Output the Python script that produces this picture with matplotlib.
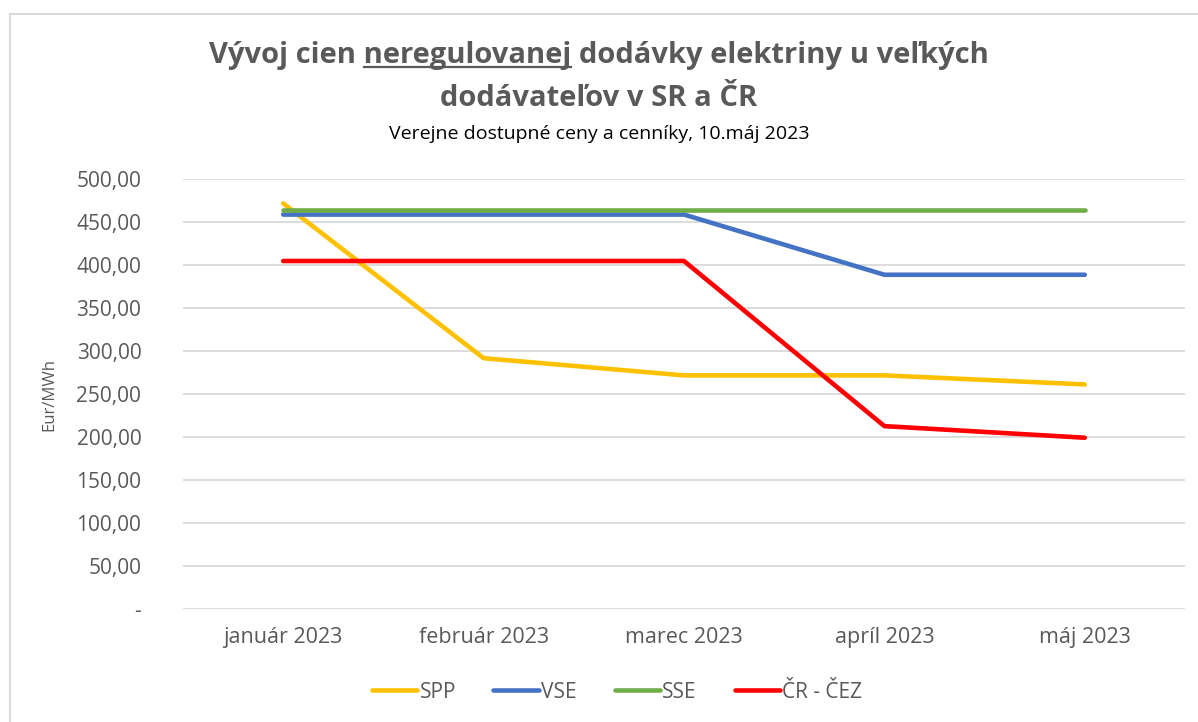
import matplotlib.pyplot as plt
from matplotlib.lines import Line2D
from matplotlib.patches import Rectangle

months = ['január 2023', 'február 2023', 'marec 2023', 'apríl 2023', 'máj 2023']
spp = [472, 292, 272, 272, 261.5]
vse = [459, 459, 459, 389, 389]
sse = [464, 464, 464, 464, 464]
cez = [405, 405, 405, 213, 199.5]

series = [('SPP', spp, '#FFC000'), ('VSE', vse, '#4472C4'),
          ('SSE', sse, '#70AD47'), ('ČR - ČEZ', cez, '#FF0000')]
yticks = [0, 50, 100, 150, 200, 250, 300, 350, 400, 450, 500]

TXT = '#595959'
plt.rcParams['font.family'] = ['Open Sans', 'DejaVu Sans']

fig = plt.figure(figsize=(11.98, 7.22), dpi=100)
# chart area border (Excel look)
fig.patches.append(Rectangle((10 / 1198, -0.01), 1.02, 1 - 14 / 722 + 0.01,
                             transform=fig.transFigure, fill=False,
                             edgecolor='#D9D9D9', linewidth=1.5))

ax = fig.add_axes([183 / 1198, (722 - 609.3) / 722, 1002 / 1198, 430 / 722])
x = list(range(len(months)))
for name, vals, col in series:
    ax.plot(x, vals, color=col, linewidth=3.3, solid_capstyle='round',
            solid_joinstyle='round', label=name)

ax.set_xlim(-0.5, len(months) - 0.5)
ax.set_ylim(0, 500)
ax.set_yticks(yticks)
ax.set_yticklabels(['-' if v == 0 else f'{v:.2f}'.replace('.', ',') for v in yticks])
ax.set_xticks(x)
ax.set_xticklabels(months)
ax.tick_params(axis='both', length=0, colors=TXT)
ax.tick_params(axis='y', pad=30, labelsize=15)
ax.tick_params(axis='x', pad=13, labelsize=15.5)
ax.grid(axis='y', color='#D9D9D9', linewidth=1.3)
ax.set_axisbelow(True)
for s in ax.spines.values():
    s.set_visible(False)
ax.set_ylabel('Eur/MWh', color=TXT, fontsize=12)
ax.yaxis.set_label_coords(-126 / 1002, 0.5)

# title, with underlined word
TSIZE = 21
line1 = 'Vývoj cien neregulovanej dodávky elektriny u veľkých'
t1 = fig.text(0.5, 1 - 55 / 722, line1, ha='center', va='center',
              fontsize=TSIZE, fontweight='bold', color=TXT)
fig.text(0.5, 1 - 98 / 722, 'dodávateľov v SR a ČR', ha='center', va='center',
         fontsize=TSIZE, fontweight='bold', color=TXT)
fig.text(0.5, 1 - 134 / 722, 'Verejne dostupné ceny a cenníky, 10.máj 2023',
         ha='center', va='center', fontsize=14, color='black')

fig.canvas.draw()
r = fig.canvas.get_renderer()


def width(s):
    tmp = fig.text(0, 0, s, fontsize=TSIZE, fontweight='bold')
    w = tmp.get_window_extent(r).width
    tmp.remove()
    return w


bb = t1.get_window_extent(r)
end = bb.x0 + width('Vývoj cien neregulovanej')
start = end - width('neregulovanej')
uy = bb.y0 + 3
fig.lines.append(Line2D([start / 1198, end / 1198], [uy / 722, uy / 722],
                        transform=fig.transFigure, color=TXT, linewidth=1.6))

leg = fig.legend(loc='center', bbox_to_anchor=(617 / 1198, 1 - 692 / 722), ncol=4,
                 frameon=False, fontsize=15, handlelength=2.2, handletextpad=0.1,
                 columnspacing=1.8)
for txt in leg.get_texts():
    txt.set_color(TXT)

fig.savefig('out.png', dpi=100)
